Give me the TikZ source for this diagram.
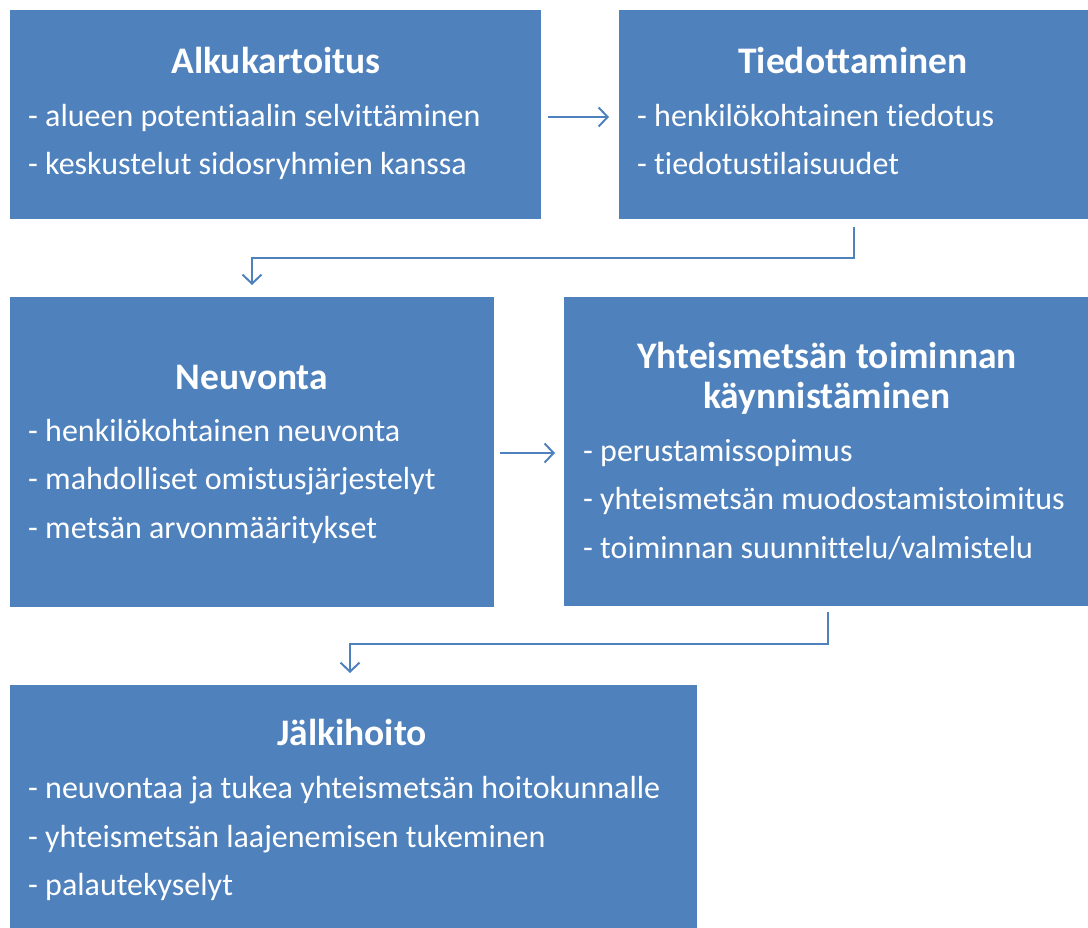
\documentclass[tikz,border=0pt]{standalone}
\usepackage{fontspec}
\setmainfont{Carlito}[Ligatures={NoCommon,NoRequired,NoContextual}]
\usetikzlibrary{arrows.meta}
\definecolor{boxblue}{HTML}{4F81BD}
\definecolor{arrowblue}{HTML}{4F81BD}
\begin{document}
\begin{tikzpicture}[x=1pt,y=-1pt,
  box/.style={fill=boxblue,draw=none},
  ttl/.style={anchor=base,text=white,inner sep=0pt,font=\fontsize{37.5}{40}\selectfont\bfseries},
  itm/.style={anchor=base west,text=white,inner sep=0pt,font=\fontsize{32}{40}\selectfont},
  conn/.style={draw=arrowblue,line width=2pt,-{Straight Barb[length=9pt,width=19pt,line width=2pt]}}]
\useasboundingbox (0,0) rectangle (1088,928);
% boxes
\path[box] (10,10) rectangle (541,219);
\path[box] (619,10) rectangle (1088,219);
\path[box] (10,297) rectangle (494,607);
\path[box] (564,297) rectangle (1088,606);
\path[box] (10,685) rectangle (697,928);
% texts box 1
\node[ttl] (t1) at (276,74) {Alkukartoitus};
\node[itm] (t1a) at (28,127) {- alueen potentiaalin selvittäminen};
\node[itm] (t1b) at (28,175) {- keskustelut sidosryhmien kanssa};
% box 2
\node[ttl] (t2) at (853,74) {Tiedottaminen};
\node[itm] (t2a) at (637,127) {- henkilökohtainen tiedotus};
\node[itm] (t2b) at (637,175) {- tiedotustilaisuudet};
% box 3
\node[ttl] (t3) at (252,389) {Neuvonta};
\node[itm] (t3a) at (28,441) {- henkilökohtainen neuvonta};
\node[itm] (t3b) at (28,489) {- mahdolliset omistusjärjestelyt};
\node[itm] (t3c) at (28,538) {- metsän arvonmääritykset};
% box 4
\node[ttl] (t4) at (827,368) {Yhteismetsän toiminnan};
\node[ttl] (t4b) at (827,408) {käynnistäminen};
\node[itm] (t4c) at (583,461) {- perustamissopimus};
\node[itm] (t4d) at (583,509) {- yhteismetsän muodostamistoimitus};
\node[itm] (t4e) at (583,558) {- toiminnan suunnittelu/valmistelu};
% box 5
\node[ttl] (t5) at (352,745) {Jälkihoito};
\node[itm] (t5a) at (28,798) {- neuvontaa ja tukea yhteismetsän hoitokunnalle};
\node[itm] (t5b) at (28,847) {- yhteismetsän laajenemisen tukeminen};
\node[itm] (t5c) at (28,895) {- palautekyselyt};
% connector anchors
\coordinate (a1s) at (548,117);
\coordinate (a1e) at (609,117);
\coordinate (a2s) at (854,227);
\coordinate (a2e) at (252,285);
\coordinate (a3s) at (500,453);
\coordinate (a3e) at (555,453);
\coordinate (a4s) at (828,612);
\coordinate (a4e) at (350,673);
\draw[conn] (a1s) -- (a1e);
\draw[conn] (a2s) |- (252,258) -- (a2e);
\draw[conn] (a3s) -- (a3e);
\draw[conn] (a4s) |- (350,644) -- (a4e);
\end{tikzpicture}
\end{document}
